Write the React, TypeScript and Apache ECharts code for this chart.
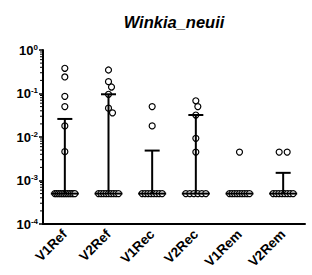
import React, { useEffect, useRef } from "react";
import * as echarts from "echarts";

const TITLE = "Winkia_neuii";
const categories = ["V1Ref", "V2Ref", "V1Rec", "V2Rec", "V1Rem", "V2Rem"];

// Observed values (detection limit points at 0.0005)
const v1Ref = [0.38, 0.24, 0.086, 0.05, 0.018, 0.0046,
  0.0005, 0.0005, 0.0005, 0.0005, 0.0005, 0.0005, 0.0005, 0.0005, 0.0005, 0.0005, 0.0005, 0.0005];
const v2Ref = [0.347, 0.187, 0.141, 0.096, 0.046, 0.036,
  0.0005, 0.0005, 0.0005, 0.0005, 0.0005, 0.0005, 0.0005, 0.0005, 0.0005];
const v1Rec = [0.05, 0.018,
  0.0005, 0.0005, 0.0005, 0.0005, 0.0005, 0.0005, 0.0005, 0.0005];
const v2Rec = [0.068, 0.05, 0.032, 0.0093, 0.0045,
  0.0005, 0.0005, 0.0005, 0.0005, 0.0005, 0.0005];
const v1Rem = [0.0045,
  0.0005, 0.0005, 0.0005, 0.0005, 0.0005, 0.0005, 0.0005, 0.0005, 0.0005];
const v2Rem = [0.0045, 0.0045,
  0.0005, 0.0005, 0.0005, 0.0005, 0.0005, 0.0005, 0.0005, 0.0005];

const groups = [v1Ref, v2Ref, v1Rec, v2Rec, v1Rem, v2Rem];
const yMin = 1e-4;
const yMax = 1;

const W = 312;
const H = 275;
const GRID = { left: 43, right: 7, top: 50, bottom: 51 };
const plotW = W - GRID.left - GRID.right;
const plotH = H - GRID.top - GRID.bottom;
const pxPerCat = plotW / categories.length;
const pxPerDecade = plotH / (Math.log10(yMax) - Math.log10(yMin));
const FONT = "Arial, 'Liberation Sans', Helvetica, sans-serif";

function percentile(vals: number[], p: number): number {
  const s = [...vals].sort((a, b) => a - b);
  const n = s.length;
  let pos = p * (n + 1);
  if (pos < 1) pos = 1;
  if (pos > n) pos = n;
  const lo = Math.floor(pos);
  const f = pos - lo;
  if (lo >= n) return s[n - 1];
  return s[lo - 1] + f * (s[lo] - s[lo - 1]);
}

// Scatter arrangement: identical values spread in a row, others swarm around centre
function swarm(values: number[]): number[] {
  const offsets = new Array(values.length).fill(0);
  const byVal = new Map<number, number[]>();
  values.forEach((v, i) => {
    if (!byVal.has(v)) byVal.set(v, []);
    byVal.get(v)!.push(i);
  });
  const placed: { x: number; y: number }[] = [];
  const singles: number[] = [];
  byVal.forEach((idxs, v) => {
    if (idxs.length > 1) {
      const k = idxs.length;
      const sp = Math.min(8, 20 / (k - 1));
      idxs.forEach((i, j) => {
        const px = (j - (k - 1) / 2) * sp;
        offsets[i] = px / pxPerCat;
        placed.push({ x: px, y: Math.log10(v) * pxPerDecade });
      });
    } else singles.push(idxs[0]);
  });
  singles.sort((a, b) => values[b] - values[a]);
  const d = 6;
  for (const i of singles) {
    const y = Math.log10(values[i]) * pxPerDecade;
    const cands = [0];
    for (let s = 1; s <= 20; s++) cands.push(s, -s);
    let chosen = 0;
    for (const c of cands) {
      const ok = placed.every((p) => Math.hypot(p.x - c, p.y - y) >= d);
      if (ok) { chosen = c; break; }
    }
    placed.push({ x: chosen, y });
    offsets[i] = chosen / pxPerCat;
  }
  return offsets;
}

const minorTickValues: number[] = [];
for (let e = -4; e < 0; e++) {
  for (let m = 2; m <= 9; m++) minorTickValues.push(m * Math.pow(10, e));
}

export default function App() {
  const ref = useRef<HTMLDivElement>(null);
  useEffect(() => {
    if (!ref.current) return;
    const chart = echarts.init(ref.current, undefined, { renderer: "svg" });

    const scatterData: number[][] = [];
    groups.forEach((vals, gi) => {
      const offs = swarm(vals);
      vals.forEach((v, i) => scatterData.push([gi + offs[i], v]));
    });
    const statData = groups.map((vals, gi) => [gi, percentile(vals, 0.5), percentile(vals, 0.75)]);

    chart.setOption({
      animation: false,
      graphic: [
        {
          type: "text",
          x: GRID.left + plotW / 2,
          y: 22,
          style: {
            text: TITLE,
            textAlign: "center",
            textVerticalAlign: "middle",
            font: `italic bold 16.5px ${FONT}`,
            fill: "#000",
          },
        },
      ],
      grid: { ...GRID, containLabel: false },
      xAxis: [
        {
          type: "category",
          data: categories,
          boundaryGap: true,
          axisLine: { onZero: false, lineStyle: { color: "#000", width: 2 } },
          axisTick: { alignWithLabel: true, length: 5, lineStyle: { color: "#000", width: 1.5 } },
          axisLabel: {
            rotate: 45,
            margin: 8,
            color: "#000",
            fontWeight: "bold",
            fontSize: 13.5,
            fontFamily: FONT,
            interval: 0,
          },
          splitLine: { show: false },
        },
        {
          type: "value",
          min: -0.5,
          max: categories.length - 0.5,
          show: false,
        },
      ],
      yAxis: {
        type: "log",
        logBase: 10,
        min: yMin,
        max: yMax,
        axisLine: { show: true, onZero: false, lineStyle: { color: "#000", width: 2 } },
        axisTick: { show: true, length: 4, lineStyle: { color: "#000", width: 1.5 } },
        splitLine: { show: false },
        axisLabel: {
          margin: 5,
          color: "#000",
          formatter: (v: number) => {
            const e = Math.round(Math.log10(v));
            return `{b|10}{s|${e}}`;
          },
          rich: {
            b: { fontSize: 13, fontWeight: "bold", fontFamily: FONT, color: "#000", lineHeight: 14 },
            s: { fontSize: 8, fontWeight: "bold", fontFamily: FONT, color: "#000", lineHeight: 8, verticalAlign: "top" },
          },
        },
      },
      series: [
        {
          type: "custom",
          xAxisIndex: 1,
          z: 1,
          clip: false,
          data: minorTickValues.map((v) => [-0.5, v]),
          renderItem: (params: any, api: any) => {
            const p = api.coord([api.value(0), api.value(1)]);
            return {
              type: "line",
              shape: { x1: p[0] - 3, y1: p[1], x2: p[0] - 1, y2: p[1] },
              style: { stroke: "#000", lineWidth: 1 },
            };
          },
        },
        {
          type: "scatter",
          xAxisIndex: 1,
          z: 2,
          symbol: "circle",
          symbolSize: 6,
          data: scatterData,
          itemStyle: { color: "#fff", borderColor: "#000", borderWidth: 1.2, opacity: 1 },
        },
        {
          type: "custom",
          xAxisIndex: 1,
          z: 3,
          data: statData,
          renderItem: (params: any, api: any) => {
            const x = api.value(0);
            const med = api.value(1);
            const q3 = api.value(2);
            const pm = api.coord([x, med]);
            const pq = api.coord([x, q3]);
            const children: any[] = [
              {
                type: "line",
                shape: { x1: pm[0] - 14, y1: pm[1], x2: pm[0] + 14, y2: pm[1] },
                style: { stroke: "#000", lineWidth: 2 },
              },
            ];
            if (q3 > med * 1.0001) {
              children.push(
                {
                  type: "line",
                  shape: { x1: pm[0], y1: pm[1], x2: pq[0], y2: pq[1] },
                  style: { stroke: "#000", lineWidth: 2 },
                },
                {
                  type: "line",
                  shape: { x1: pq[0] - 7.5, y1: pq[1], x2: pq[0] + 7.5, y2: pq[1] },
                  style: { stroke: "#000", lineWidth: 2 },
                }
              );
            }
            return { type: "group", children };
          },
        },
      ],
    });
    return () => chart.dispose();
  }, []);
  return (
    <div
      ref={ref}
      style={{ position: "absolute", left: 0, top: 0, width: W, height: H, background: "#fff" }}
    />
  );
}
